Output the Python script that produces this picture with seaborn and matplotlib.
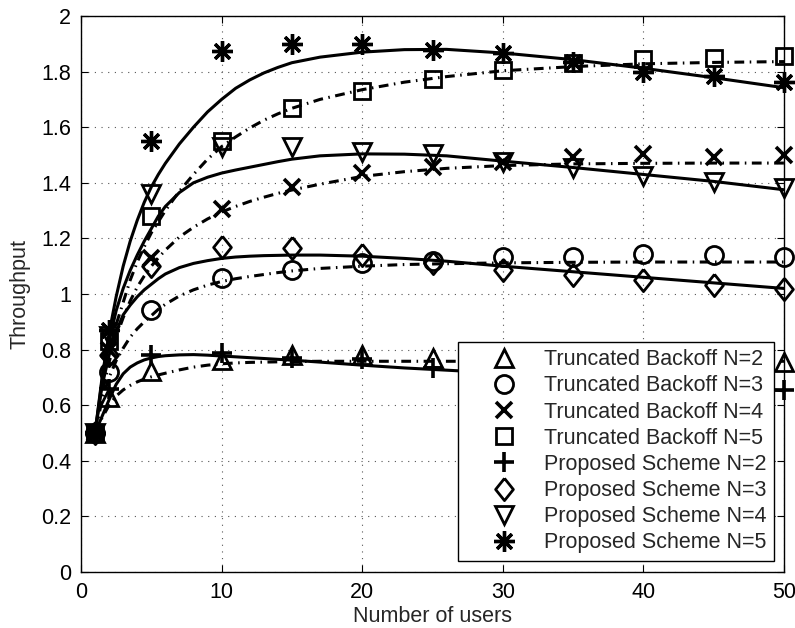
import matplotlib
matplotlib.use("Agg")
import matplotlib.pyplot as plt
import seaborn as sns
from matplotlib.lines import Line2D

# ---- analytical curves ----
curve_users = [1, 1.5, 2, 2.5, 3, 3.5, 4, 4.5, 5, 5.5, 6, 7, 8, 9, 10, 11, 12, 13, 14,
               15, 17, 20, 23, 26, 30, 35, 40, 45, 50]
prop_curve_n2 = [0.50, 0.56, 0.62, 0.675, 0.713, 0.737, 0.752, 0.763, 0.770, 0.775,
                 0.778, 0.781, 0.782, 0.780, 0.777, 0.774, 0.771, 0.768, 0.765,
                 0.762, 0.755, 0.744, 0.734, 0.726, 0.715, 0.700, 0.685, 0.670, 0.652]
prop_curve_n3 = [0.50, 0.67, 0.78, 0.865, 0.925, 0.96, 0.99, 1.015, 1.035, 1.055,
                 1.072, 1.095, 1.11, 1.12, 1.128, 1.133, 1.136, 1.138, 1.139,
                 1.14, 1.14, 1.136, 1.128, 1.118, 1.10, 1.08, 1.06, 1.04, 1.02]
prop_curve_n4 = [0.50, 0.69, 0.83, 0.94, 1.02, 1.085, 1.14, 1.19, 1.235, 1.28,
                 1.315, 1.365, 1.40, 1.42, 1.435, 1.446, 1.456, 1.466, 1.476,
                 1.485, 1.497, 1.504, 1.503, 1.497, 1.478, 1.455, 1.43, 1.405, 1.375]
prop_curve_n5 = [0.50, 0.70, 0.86, 0.99, 1.10, 1.19, 1.265, 1.33, 1.385, 1.43,
                 1.47, 1.54, 1.60, 1.655, 1.70, 1.74, 1.77, 1.795, 1.815,
                 1.832, 1.852, 1.870, 1.879, 1.880, 1.867, 1.843, 1.812, 1.778, 1.742]
tb_curve_n2 = [0.50, 0.555, 0.60, 0.633, 0.655, 0.671, 0.684, 0.694, 0.702, 0.709,
               0.715, 0.727, 0.737, 0.744, 0.749, 0.752, 0.754, 0.755, 0.756,
               0.757, 0.758, 0.758, 0.758, 0.758, 0.758, 0.758, 0.758, 0.758, 0.758]
tb_curve_n3 = [0.50, 0.62, 0.70, 0.76, 0.805, 0.845, 0.875, 0.90, 0.922, 0.945,
               0.963, 0.993, 1.015, 1.032, 1.045, 1.055, 1.063, 1.07, 1.077,
               1.083, 1.092, 1.10, 1.106, 1.109, 1.112, 1.114, 1.115, 1.115, 1.115]
tb_curve_n4 = [0.50, 0.64, 0.755, 0.845, 0.915, 0.975, 1.025, 1.065, 1.10, 1.13,
               1.158, 1.205, 1.24, 1.27, 1.295, 1.315, 1.333, 1.348, 1.362,
               1.374, 1.395, 1.423, 1.44, 1.452, 1.462, 1.468, 1.47, 1.471, 1.471]
tb_curve_n5 = [0.50, 0.66, 0.79, 0.89, 0.97, 1.05, 1.115, 1.17, 1.22, 1.26,
               1.30, 1.37, 1.43, 1.485, 1.53, 1.565, 1.597, 1.625, 1.648,
               1.668, 1.70, 1.735, 1.762, 1.782, 1.803, 1.818, 1.828, 1.833, 1.836]

# ---- simulation points ----
sim_users = [1, 2, 5, 10, 15, 20, 25, 30, 35, 40, 45, 50]
tb_n2 = [0.50, 0.63, 0.724, 0.763, 0.78, 0.78, 0.77, 0.765, 0.76, 0.76, 0.76, 0.757]
tb_n3 = [0.50, 0.72, 0.942, 1.057, 1.086, 1.11, 1.12, 1.134, 1.134, 1.144, 1.14, 1.134]
tb_n4 = [0.50, 0.80, 1.13, 1.305, 1.384, 1.434, 1.457, 1.475, 1.493, 1.504, 1.494, 1.50]
tb_n5 = [0.50, 0.83, 1.28, 1.55, 1.67, 1.73, 1.773, 1.806, 1.83, 1.844, 1.848, 1.856]
prop_n2 = [0.50, 0.66, 0.78, 0.787, 0.77, 0.766, 0.733, 0.72, 0.70, 0.69, 0.67, 0.655]
prop_n3 = [0.50, 0.78, 1.10, 1.168, 1.164, 1.14, 1.11, 1.086, 1.068, 1.05, 1.032, 1.017]
prop_n4 = [0.50, 0.85, 1.36, 1.53, 1.53, 1.51, 1.504, 1.476, 1.452, 1.424, 1.404, 1.38]
prop_n5 = [0.50, 0.87, 1.55, 1.875, 1.90, 1.90, 1.878, 1.866, 1.836, 1.80, 1.784, 1.764]

legend_labels = ["Truncated Backoff N=2", "Truncated Backoff N=3",
                 "Truncated Backoff N=4", "Truncated Backoff N=5",
                 "Proposed Scheme N=2", "Proposed Scheme N=3",
                 "Proposed Scheme N=4", "Proposed Scheme N=5"]

sns.set_style("ticks")
plt.rcParams["font.family"] = ["Liberation Sans", "DejaVu Sans"]
plt.rcParams["xtick.direction"] = "in"
plt.rcParams["ytick.direction"] = "in"

FS = 15.5
fig = plt.figure(figsize=(7.95, 6.28), dpi=100)
ax = fig.add_axes([81 / 795, 56 / 628, 703 / 795, 556 / 628])

dashdot = (0, (3.2, 1.8, 0.5, 1.8))
for ys in [prop_curve_n2, prop_curve_n3, prop_curve_n4, prop_curve_n5]:
    sns.lineplot(x=curve_users, y=ys, ax=ax, color="black", linewidth=2.2,
                 linestyle="-", sort=False, estimator=None, zorder=3)
for ys in [tb_curve_n2, tb_curve_n3, tb_curve_n4, tb_curve_n5]:
    sns.lineplot(x=curve_users, y=ys, ax=ax, color="black", linewidth=2.2,
                 linestyle=dashdot, sort=False, estimator=None, zorder=3)

diamond = [(0, 1), (0.8, 0), (0, -1), (-0.8, 0), (0, 1)]
marker_specs = [
    ("^", 13, 2.0), ("o", 13, 2.0), ("x", 12, 2.6), ("s", 12, 2.0),
    ("+", 14, 2.6), (diamond, 16, 2.0), ("v", 13, 2.0), ((8, 2, 0), 15, 2.4),
]
series = [tb_n2, tb_n3, tb_n4, tb_n5, prop_n2, prop_n3, prop_n4, prop_n5]

handles = []
for ys, (mk, ms, mew), lab in zip(series, marker_specs, legend_labels):
    sns.lineplot(x=sim_users, y=ys, ax=ax, linestyle="none", marker=mk,
                 markersize=ms, markeredgewidth=mew, markeredgecolor="black",
                 markerfacecolor="none", color="black", sort=False,
                 estimator=None, clip_on=False, zorder=4)
    handles.append(Line2D([], [], linestyle="none", marker=mk, markersize=ms,
                          markeredgewidth=mew, markeredgecolor="black",
                          markerfacecolor="none"))

ax.set_xlim(0, 50)
ax.set_ylim(0, 2)
ax.set_xticks(range(0, 51, 10))
yt = [i / 5 for i in range(11)]
ax.set_yticks(yt)
ax.set_yticklabels([f"{v:g}" for v in yt])
ax.tick_params(axis="both", which="both", direction="in", length=5, width=0.8,
               top=True, right=True, labelsize=FS, pad=7, colors="black")
ax.grid(True, color="#555555", linestyle=(0, (1, 5)), linewidth=0.8)
for sp in ax.spines.values():
    sp.set_linewidth(1.0)
    sp.set_color("black")
    sp.set_visible(True)

ax.set_xlabel("Number of users", fontsize=FS, labelpad=2)
ax.set_ylabel("Throughput", fontsize=FS, labelpad=8)

leg = ax.legend(handles, legend_labels, loc="lower right",
                bbox_to_anchor=(774 / 795, 67 / 628), bbox_transform=fig.transFigure,
                fontsize=FS, frameon=True, fancybox=False, framealpha=1,
                edgecolor="black", borderpad=0.35, labelspacing=0.24,
                handlelength=3.5, handletextpad=0.12, borderaxespad=0)
leg.get_frame().set_linewidth(1.0)
leg.set_zorder(10)

fig.savefig("out.png", dpi=100)
